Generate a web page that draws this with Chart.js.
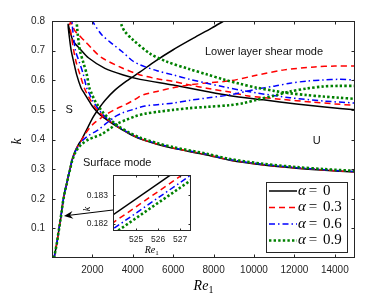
<!DOCTYPE html>
<html lang="en">
<head>
<meta charset="UTF-8">
<title>Neutral stability curves</title>
<script src="https://cdn.jsdelivr.net/npm/chart.js"></script>
<style>
  body { margin: 0; background: #fff; }
  #wrap { position: relative; width: 392px; height: 294px; }
  #main { position: absolute; left: 0; top: 0; }
  #inset { position: absolute; left: 70px; top: 165px; }
</style>
</head>
<body>
<div id="wrap">
  <canvas id="main" width="392" height="294"></canvas>
  <canvas id="inset" width="130" height="90"></canvas>
</div>
<script>
// ---- data ----
const alphaLabels = ['0', '0.3', '0.6', '0.9'];
const xTicks = [2000, 4000, 6000, 8000, 10000, 12000, 14000];
const yTicks = [0.1, 0.2, 0.3, 0.4, 0.5, 0.6, 0.7, 0.8];
const insetXTicks = [525, 526, 527];
const insetYTicks = [0.182, 0.183];

// alpha = 0
const surfRe0 = [100, 170, 240, 300, 360, 420, 480, 525, 560, 640, 730, 810, 890, 1000, 1140, 1300, 1470, 1750, 2050, 2300, 2620, 3100, 3700, 4360, 5100, 6000, 7000, 7900, 8500];
const surfK0 = [0, 0.025, 0.05, 0.077, 0.103, 0.13, 0.158, 0.1825, 0.198, 0.226, 0.252, 0.278, 0.3, 0.333, 0.36, 0.382, 0.4, 0.438, 0.477, 0.503, 0.532, 0.566, 0.598, 0.628, 0.664, 0.703, 0.742, 0.776, 0.8];
const shearRe0 = [15000, 13500, 12100, 10460, 8810, 7660, 6000, 5200, 4360, 3780, 3300, 2950, 2600, 2290, 2000, 1800, 1600, 1440, 1220, 1080, 955, 870, 810, 800, 860, 1050, 1400, 1800, 2620, 3530, 4360, 6000, 7660, 8810, 10460, 12100, 13500, 15000];
const shearK0 = [0.29, 0.296, 0.303, 0.314, 0.33, 0.348, 0.37, 0.384, 0.402, 0.421, 0.44, 0.455, 0.472, 0.489, 0.512, 0.534, 0.556, 0.574, 0.619, 0.66, 0.698, 0.74, 0.775, 0.789, 0.772, 0.732, 0.705, 0.676, 0.64, 0.618, 0.603, 0.584, 0.562, 0.548, 0.534, 0.52, 0.51, 0.5];

// alpha = 0.3
const surfRe3 = [100, 170, 240, 300, 360, 420, 480, 527, 560, 640, 730, 810, 890, 1000, 1140, 1300, 1470, 1650, 1850, 2100, 2450, 2790, 3200, 3610, 4100, 4520, 5200, 6000, 6800, 7660, 8810, 10000, 11500, 13000, 14000, 15000];
const surfK3 = [0, 0.025, 0.05, 0.077, 0.103, 0.13, 0.158, 0.1825, 0.197, 0.225, 0.251, 0.277, 0.299, 0.331, 0.358, 0.38, 0.399, 0.419, 0.438, 0.456, 0.474, 0.489, 0.504, 0.517, 0.535, 0.551, 0.562, 0.575, 0.584, 0.591, 0.598, 0.615, 0.635, 0.645, 0.648, 0.648];
const shearRe3 = [15000, 13500, 12100, 10460, 8810, 7660, 6000, 5200, 4360, 3780, 3300, 3000, 2650, 2380, 2100, 1900, 1720, 1600, 1380, 1200, 1050, 950, 880, 920, 1000, 1140, 1630, 2000, 2460, 3450, 4360, 5200, 6000, 6830, 7660, 8810, 9640, 11290, 12940, 14000, 15000];
const shearK3 = [0.291, 0.297, 0.304, 0.315, 0.331, 0.349, 0.371, 0.385, 0.403, 0.422, 0.441, 0.455, 0.472, 0.489, 0.512, 0.534, 0.556, 0.574, 0.62, 0.66, 0.709, 0.755, 0.787, 0.796, 0.787, 0.766, 0.732, 0.705, 0.676, 0.642, 0.618, 0.605, 0.596, 0.584, 0.573, 0.56, 0.548, 0.536, 0.526, 0.52, 0.515];

// alpha = 0.6
const surfRe6 = [100, 170, 240, 300, 360, 420, 480, 528, 560, 640, 730, 810, 890, 1000, 1140, 1300, 1500, 1800, 2050, 2300, 2700, 3120, 3500, 3950, 4600, 5300, 6000, 6800, 7660, 8810, 10130, 11000, 11780, 12600, 13430, 14200, 15000];
const surfK6 = [0, 0.025, 0.05, 0.077, 0.103, 0.13, 0.158, 0.1825, 0.197, 0.225, 0.251, 0.277, 0.299, 0.331, 0.357, 0.378, 0.396, 0.413, 0.423, 0.433, 0.455, 0.477, 0.49, 0.5, 0.513, 0.518, 0.523, 0.532, 0.54, 0.551, 0.57, 0.58, 0.59, 0.597, 0.601, 0.603, 0.601];
const lowRe6 = [15000, 13500, 12100, 10460, 8810, 7660, 6000, 5200, 4360, 3780, 3300, 3050, 2700, 2450, 2200, 1990, 1840, 1720, 1550, 1360, 1170, 1080, 1010, 990];
const lowK6 = [0.292, 0.298, 0.305, 0.316, 0.332, 0.35, 0.372, 0.386, 0.404, 0.423, 0.442, 0.455, 0.472, 0.489, 0.512, 0.534, 0.556, 0.574, 0.62, 0.66, 0.698, 0.74, 0.78, 0.805];
const upRe6 = [1980, 2050, 2460, 3000, 3450, 4000, 4360, 5200, 6000, 6830, 7660, 8480, 9300, 10130, 11780, 13430, 15000];
const upK6 = [0.805, 0.794, 0.754, 0.722, 0.698, 0.665, 0.652, 0.632, 0.618, 0.603, 0.59, 0.578, 0.567, 0.557, 0.541, 0.53, 0.523];

// alpha = 0.9
const surfRe9 = [100, 170, 240, 300, 360, 420, 480, 528, 560, 640, 730, 810, 890, 1000, 1140, 1300, 1500, 1800, 2100, 2460, 2900, 3280, 3700, 4110, 4600, 5300, 6000, 6830, 7660, 8810, 9500, 10130, 11000, 11780, 12600, 13430, 14200, 15000];
const surfK9 = [0, 0.025, 0.05, 0.077, 0.103, 0.13, 0.158, 0.1825, 0.197, 0.225, 0.25, 0.276, 0.298, 0.329, 0.354, 0.372, 0.386, 0.4, 0.408, 0.418, 0.438, 0.455, 0.467, 0.478, 0.487, 0.494, 0.5, 0.506, 0.51, 0.516, 0.523, 0.534, 0.548, 0.562, 0.572, 0.579, 0.581, 0.581];
const lowRe9 = [15000, 13500, 12100, 10460, 8810, 7660, 6000, 5200, 4360, 3780, 3300, 3100, 2800, 2550, 2300, 2100, 1960, 1850, 1720, 1550, 1390, 1300, 1240, 1215];
const lowK9 = [0.294, 0.3, 0.307, 0.318, 0.334, 0.352, 0.374, 0.388, 0.406, 0.425, 0.444, 0.455, 0.472, 0.489, 0.512, 0.534, 0.556, 0.574, 0.62, 0.66, 0.698, 0.74, 0.78, 0.805];
const upRe9 = [3380, 3450, 3600, 4000, 4850, 5680, 6830, 7660, 8480, 9300, 10130, 11000, 11780, 12600, 13430, 14200, 15000];
const upK9 = [0.805, 0.785, 0.765, 0.737, 0.69, 0.663, 0.637, 0.62, 0.603, 0.588, 0.575, 0.564, 0.556, 0.55, 0.545, 0.541, 0.537];

// inset (zoom near Re1 = 525)
const insetRe = [523.5, 528];
const insetK0 = [0.18207, 0.18448];
const insetK3 = [0.18179, 0.18420];
const insetK6 = [0.18157, 0.18398];
const insetK9 = [0.18139, 0.18380];

// ---- styles ----
const lineStyles = [
  { color: '#000000', dash: [], width: 1.5 },
  { color: '#ff0000', dash: [6, 4], width: 1.5 },
  { color: '#0000ff', dash: [6, 3, 1.5, 3], width: 1.5 },
  { color: '#008000', dash: [2.4, 2.2], width: 2.6 }
];
const tickColor = '#262626';
const notes = [
  { text: 'Lower layer shear mode', re: 7574, k: 0.696, align: 'left' },
  { text: 'S', re: 856, k: 0.5, align: 'center' },
  { text: 'U', re: 13104, k: 0.395, align: 'center' },
  { text: 'Surface mode', re: 1535, k: 0.322, align: 'left' }
];
const arrowTail = [3020, 0.162];
const arrowTip = [594, 0.142];

function pts(xs, ys) { return xs.map((v, i) => ({ x: v, y: ys[i] })); }
function line(xs, ys, a, tension) {
  const s = lineStyles[a];
  return {
    data: pts(xs, ys), borderColor: s.color, borderDash: s.dash, borderWidth: s.width,
    pointRadius: 0, fill: false, tension: tension, order: 3 - a
  };
}

const mainDatasets = [
  line(surfRe0, surfK0, 0, 0.3), line(shearRe0, shearK0, 0, 0.25),
  line(surfRe3, surfK3, 1, 0.3), line(shearRe3, shearK3, 1, 0.25),
  line(surfRe6, surfK6, 2, 0.3), line(lowRe6, lowK6, 2, 0.3), line(upRe6, upK6, 2, 0.3),
  line(surfRe9, surfK9, 3, 0.3), line(lowRe9, lowK9, 3, 0.3), line(upRe9, upK9, 3, 0.3)
];

const mainDecor = {
  id: 'mainDecor',
  afterDraw(chart) {
    const { ctx, chartArea: a, scales: { x, y } } = chart;
    ctx.save();
    // frame with inward ticks
    const L = Math.round(a.left) + 0.5, T = Math.round(a.top) + 0.5;
    const R = Math.round(a.right) - 0.5, B = Math.round(a.bottom) - 0.5;
    ctx.strokeStyle = tickColor; ctx.lineWidth = 1; ctx.setLineDash([]);
    ctx.strokeRect(L, T, R - L, B - T);
    ctx.beginPath();
    xTicks.forEach(v => {
      const px = Math.round(x.getPixelForValue(v)) + 0.5;
      ctx.moveTo(px, B); ctx.lineTo(px, B - 3);
      ctx.moveTo(px, T); ctx.lineTo(px, T + 3);
    });
    yTicks.forEach(v => {
      const py = Math.round(y.getPixelForValue(v)) + 0.5;
      ctx.moveTo(L, py); ctx.lineTo(L + 3, py);
      ctx.moveTo(R, py); ctx.lineTo(R - 3, py);
    });
    ctx.stroke();

    // region notes
    ctx.fillStyle = '#111';
    ctx.font = '11px "Liberation Sans", Arial, sans-serif';
    ctx.textBaseline = 'middle';
    notes.forEach(n => {
      ctx.textAlign = n.align;
      ctx.fillText(n.text, x.getPixelForValue(n.re), y.getPixelForValue(n.k));
    });

    // arrow from inset to curve
    const tx = x.getPixelForValue(arrowTail[0]), ty = y.getPixelForValue(arrowTail[1]);
    const hx = x.getPixelForValue(arrowTip[0]), hy = y.getPixelForValue(arrowTip[1]);
    const ang = Math.atan2(hy - ty, hx - tx);
    const ux = Math.cos(ang), uy = Math.sin(ang);
    ctx.strokeStyle = '#000'; ctx.lineWidth = 1;
    ctx.beginPath(); ctx.moveTo(tx, ty); ctx.lineTo(hx - 5 * ux, hy - 5 * uy); ctx.stroke();
    ctx.fillStyle = '#000';
    ctx.beginPath();
    ctx.moveTo(hx, hy);
    ctx.lineTo(hx - 9 * ux - 4 * uy, hy - 9 * uy + 4 * ux);
    ctx.lineTo(hx - 6 * ux, hy - 6 * uy);
    ctx.lineTo(hx - 9 * ux + 4 * uy, hy - 9 * uy - 4 * ux);
    ctx.closePath(); ctx.fill();

    // axis titles
    ctx.fillStyle = '#000';
    ctx.font = 'italic 14px "Liberation Serif", serif';
    ctx.save();
    ctx.translate(17, (a.top + a.bottom) / 2 + 2);
    ctx.rotate(-Math.PI / 2);
    ctx.textAlign = 'center'; ctx.textBaseline = 'middle';
    ctx.fillText('k', 0, 0);
    ctx.restore();
    const wRe = ctx.measureText('Re').width;
    const cx = (a.left + a.right) / 2;
    ctx.textAlign = 'left'; ctx.textBaseline = 'alphabetic';
    ctx.fillText('Re', cx - (wRe + 5) / 2, 290);
    ctx.font = '10px "Liberation Serif", serif';
    ctx.fillText('1', cx - (wRe + 5) / 2 + wRe, 293);

    // legend
    const bx = Math.round(a.right) - 89, by = Math.round(a.bottom) - 76, bw = 81, bh = 70;
    ctx.fillStyle = '#fff'; ctx.fillRect(bx, by, bw, bh);
    ctx.strokeStyle = tickColor; ctx.lineWidth = 1;
    ctx.strokeRect(bx + 0.5, by + 0.5, bw, bh);
    alphaLabels.forEach((lab, i) => {
      const s = lineStyles[i];
      const cy = by + 9 + i * 16.5;
      ctx.strokeStyle = s.color; ctx.lineWidth = s.width; ctx.setLineDash(s.dash);
      ctx.beginPath(); ctx.moveTo(bx + 3, cy); ctx.lineTo(bx + 31, cy); ctx.stroke();
      ctx.setLineDash([]);
      ctx.fillStyle = '#000'; ctx.textBaseline = 'middle';
      ctx.font = 'italic 15px "Liberation Serif", serif';
      ctx.textAlign = 'left'; ctx.fillText('\u03b1', bx + 32, cy);
      ctx.font = '15px "Liberation Serif", serif';
      ctx.textAlign = 'center'; ctx.fillText('=', bx + 47, cy);
      ctx.textAlign = 'left'; ctx.fillText(lab, bx + 57, cy);
    });
    ctx.restore();
  }
};

new Chart(document.getElementById('main'), {
  type: 'line',
  data: { datasets: mainDatasets },
  options: {
    responsive: false,
    animation: false,
    layout: { padding: { top: 21, right: 37, left: 0, bottom: 0 } },
    plugins: { legend: { display: false }, tooltip: { enabled: false } },
    scales: {
      x: {
        type: 'linear', min: 0, max: 15000,
        grid: { display: false, drawTicks: false }, border: { display: false },
        afterBuildTicks: s => { s.ticks = xTicks.map(v => ({ value: v })); },
        afterFit: s => { s.height = 36; },
        ticks: {
          autoSkip: false, maxRotation: 0, padding: 6, color: tickColor,
          font: { family: '"Liberation Sans", Arial, sans-serif', size: 10 },
          callback: v => String(v)
        }
      },
      y: {
        type: 'linear', min: 0, max: 0.8,
        grid: { display: false, drawTicks: false }, border: { display: false },
        afterBuildTicks: s => { s.ticks = yTicks.map(v => ({ value: v })); },
        afterFit: s => { s.width = 52; },
        ticks: {
          autoSkip: false, padding: 7, color: tickColor,
          font: { family: '"Liberation Sans", Arial, sans-serif', size: 10 },
          callback: v => v.toFixed(1)
        }
      }
    }
  },
  plugins: [mainDecor]
});

// ---- inset ----
const insetDatasets = [insetK0, insetK3, insetK6, insetK9].map((ks, a) => {
  const s = lineStyles[a];
  return {
    data: pts(insetRe, ks), borderColor: s.color, borderDash: s.dash, borderWidth: s.width,
    pointRadius: 0, fill: false, order: 3 - a
  };
});

const insetDecor = {
  id: 'insetDecor',
  beforeDraw(chart) {
    const { ctx, chartArea: a } = chart;
    ctx.save();
    ctx.fillStyle = '#fff';
    ctx.fillRect(a.left, a.top, a.right - a.left, a.bottom - a.top);
    ctx.restore();
  },
  afterDraw(chart) {
    const { ctx, chartArea: a, scales: { x, y } } = chart;
    ctx.save();
    const L = Math.round(a.left) + 0.5, T = Math.round(a.top) + 0.5;
    const R = Math.round(a.right) - 0.5, B = Math.round(a.bottom) - 0.5;
    ctx.strokeStyle = tickColor; ctx.lineWidth = 1; ctx.setLineDash([]);
    ctx.strokeRect(L, T, R - L, B - T);
    ctx.beginPath();
    insetXTicks.forEach(v => {
      const px = Math.round(x.getPixelForValue(v)) + 0.5;
      ctx.moveTo(px, B); ctx.lineTo(px, B - 2);
      ctx.moveTo(px, T); ctx.lineTo(px, T + 2);
    });
    insetYTicks.forEach(v => {
      const py = Math.round(y.getPixelForValue(v)) + 0.5;
      ctx.moveTo(L, py); ctx.lineTo(L + 2, py);
      ctx.moveTo(R, py); ctx.lineTo(R - 2, py);
    });
    ctx.stroke();
    ctx.fillStyle = '#000';
    ctx.font = 'italic 10px "Liberation Serif", serif';
    ctx.save();
    ctx.translate(a.left - 26, a.top + 34);
    ctx.rotate(-Math.PI / 2);
    ctx.textAlign = 'center'; ctx.textBaseline = 'middle';
    ctx.fillText('k', 0, 0);
    ctx.restore();
    const w = ctx.measureText('Re').width;
    const cx = (a.left + a.right) / 2;
    ctx.textAlign = 'left'; ctx.textBaseline = 'alphabetic';
    ctx.fillText('Re', cx - (w + 4) / 2, a.bottom + 22);
    ctx.font = '7px "Liberation Serif", serif';
    ctx.fillText('1', cx - (w + 4) / 2 + w, a.bottom + 24);
    ctx.restore();
  }
};

new Chart(document.getElementById('inset'), {
  type: 'line',
  data: { datasets: insetDatasets },
  options: {
    responsive: false,
    animation: false,
    layout: { padding: { top: 7, right: 9, left: 0, bottom: 0 } },
    plugins: { legend: { display: false }, tooltip: { enabled: false } },
    scales: {
      x: {
        type: 'linear', min: 523.95, max: 527.5,
        grid: { display: false, drawTicks: false }, border: { display: false },
        afterBuildTicks: s => { s.ticks = insetXTicks.map(v => ({ value: v })); },
        afterFit: s => { s.height = 24; },
        ticks: {
          autoSkip: false, maxRotation: 0, padding: 4, color: tickColor,
          font: { family: '"Liberation Sans", Arial, sans-serif', size: 8.5 },
          callback: v => String(v)
        }
      },
      y: {
        type: 'linear', min: 0.18174, max: 0.18371,
        grid: { display: false, drawTicks: false }, border: { display: false },
        afterBuildTicks: s => { s.ticks = insetYTicks.map(v => ({ value: v })); },
        afterFit: s => { s.width = 43; },
        ticks: {
          autoSkip: false, padding: 5, color: tickColor,
          font: { family: '"Liberation Sans", Arial, sans-serif', size: 8.5 },
          callback: v => v.toFixed(3)
        }
      }
    }
  },
  plugins: [insetDecor]
});
</script>
</body>
</html>
